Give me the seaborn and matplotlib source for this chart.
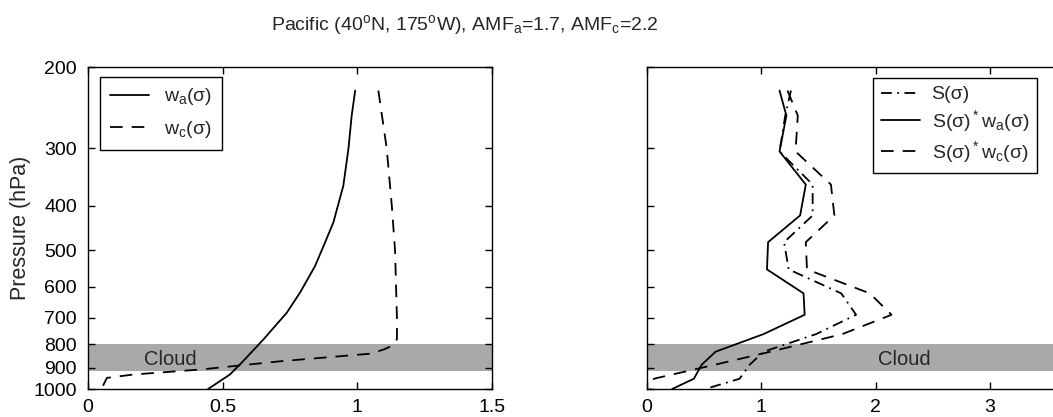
import numpy as np
import pandas as pd
import matplotlib
matplotlib.use("Agg")
import matplotlib.pyplot as plt
from matplotlib.ticker import FixedLocator, FixedFormatter, NullLocator
import seaborn as sns

# ---------------- data ----------------
title = r"Pacific (40$^{o}$N, 175$^{o}$W), AMF$_{a}$=1.7, AMF$_{c}$=2.2"

# left panel: scattering weights
p_wa = [225, 255, 301, 362, 435, 481, 541, 618, 683, 781, 870, 930, 1000]
w_a = [0.992, 0.979, 0.967, 0.948, 0.911, 0.880, 0.843, 0.787, 0.738, 0.651, 0.576, 0.527, 0.446]

p_wc = [225, 300, 400, 500, 700, 780, 805, 820, 838, 871, 907, 930, 946, 1000]
w_c = [1.078, 1.109, 1.128, 1.140, 1.147, 1.147, 1.13, 1.10, 1.05, 0.71, 0.42, 0.17, 0.07, 0.05]

# right panel: shape factor and products
p_s = [225, 255, 305, 360, 420, 480, 550, 620, 690, 760, 830, 885, 950, 1000]
S = [1.26, 1.21, 1.16, 1.45, 1.45, 1.20, 1.24, 1.70, 1.83, 1.48, 1.02, 0.90, 0.81, 0.51]
S_wa = [1.16, 1.22, 1.16, 1.39, 1.34, 1.06, 1.05, 1.37, 1.38, 1.02, 0.60, 0.48, 0.41, 0.22]
S_wc = [1.23, 1.32, 1.30, 1.61, 1.64, 1.39, 1.40, 1.95, 2.14, 1.71, 1.08, 0.60, 0.06, 0.03]

cloud_bottom, cloud_top = 915, 800
p_ticks = [200, 300, 400, 500, 600, 700, 800, 900, 1000]
p_ticklabels = ["200", "300", "400", "500", "600", "700", "800", "900", "1000"]
x_left_ticks = [0, 0.5, 1, 1.5]
x_left_labels = ["0", "0.5", "1", "1.5"]
x_right_ticks = [0, 1, 2, 3]
x_right_labels = ["0", "1", "2", "3"]

# ---------------- style ----------------
sns.set_style("ticks")
plt.rcParams["font.family"] = ["Liberation Sans", "DejaVu Sans"]
plt.rcParams["mathtext.default"] = "regular"
plt.rcParams["axes.linewidth"] = 1.0
plt.rcParams["axes.edgecolor"] = "black"
plt.rcParams["xtick.color"] = "black"
plt.rcParams["ytick.color"] = "black"

FS = 14
W, H = 1053, 417
fig = plt.figure(figsize=(W / 100, H / 100), dpi=100)

ax1 = fig.add_axes([88 / W, (H - 389) / H, 404 / W, 322 / H])
ax2 = fig.add_axes([647 / W, (H - 389) / H, 457 / W, 322 / H])

dash = (0, (7, 5))
dashdot = (0, (6, 3, 1, 3))
lw = 1.3

df_wa = pd.DataFrame({"x": w_a, "p": p_wa})
df_wc = pd.DataFrame({"x": w_c, "p": p_wc})
sns.lineplot(data=df_wa, x="x", y="p", sort=False, estimator=None, ax=ax1,
             color="black", lw=lw, label="w$_a$(σ)")
sns.lineplot(data=df_wc, x="x", y="p", sort=False, estimator=None, ax=ax1,
             color="black", lw=lw, linestyle=dash, label="w$_c$(σ)")

df_r = pd.DataFrame({"p": p_s, "S": S, "Swa": S_wa, "Swc": S_wc})
sns.lineplot(data=df_r, x="S", y="p", sort=False, estimator=None, ax=ax2,
             color="black", lw=lw, linestyle=dashdot, label="S(σ)")
sns.lineplot(data=df_r, x="Swa", y="p", sort=False, estimator=None, ax=ax2,
             color="black", lw=lw, label="S(σ)$^*$w$_a$(σ)")
sns.lineplot(data=df_r, x="Swc", y="p", sort=False, estimator=None, ax=ax2,
             color="black", lw=lw, linestyle=dash, label="S(σ)$^*$w$_c$(σ)")

for ax, xlim, xt, xl in [(ax1, (0, 1.5), x_left_ticks, x_left_labels),
                         (ax2, (0, 4), x_right_ticks, x_right_labels)]:
    ax.axhspan(cloud_top, cloud_bottom, color="#a9a9a9", lw=0, zorder=0)
    ax.set_yscale("log")
    ax.set_ylim(1000, 200)
    ax.set_xlim(*xlim)
    ax.yaxis.set_major_locator(FixedLocator(p_ticks))
    ax.yaxis.set_minor_locator(NullLocator())
    ax.set_xticks(xt)
    ax.set_xticklabels(xl)
    ax.tick_params(axis="both", which="major", direction="in", length=5, width=1,
                   top=True, right=True, labelsize=FS)
    ax.tick_params(axis="y", pad=8)
    ax.tick_params(axis="x", pad=7)
    for s in ax.spines.values():
        s.set_visible(True)
        s.set_linewidth(1.0)
    ax.set_xlabel("")
    ax.set_ylabel("")

ax1.yaxis.set_major_formatter(FixedFormatter(p_ticklabels))
ax2.yaxis.set_major_formatter(FixedFormatter([""] * len(p_ticks)))
ax1.set_ylabel("Pressure (hPa)", fontsize=15.5, labelpad=2)

ax1.text(0.305, 863, "Cloud", fontsize=14.5, ha="center", va="center")
ax2.text(2.255, 863, "Cloud", fontsize=14.5, ha="center", va="center")

leg1 = ax1.legend(loc="upper left", bbox_to_anchor=(0.03, 0.97), fontsize=FS,
                  frameon=True, fancybox=False, edgecolor="black", framealpha=1,
                  handlelength=2.0, borderaxespad=0, labelspacing=0.6,
                  borderpad=0.5, handletextpad=0.8)
leg1.get_frame().set_linewidth(1.0)
leg2 = ax2.legend(loc="upper right", bbox_to_anchor=(0.853, 0.966), fontsize=FS,
                  frameon=True, fancybox=False, edgecolor="black", framealpha=1,
                  handlelength=2.0, borderaxespad=0, labelspacing=0.25,
                  borderpad=0.4, handletextpad=0.6)
leg2.get_frame().set_linewidth(1.0)

fig.text(465 / W, 1 - 25 / H, title, fontsize=FS, ha="center", va="center")

fig.savefig("out.png", dpi=100)
